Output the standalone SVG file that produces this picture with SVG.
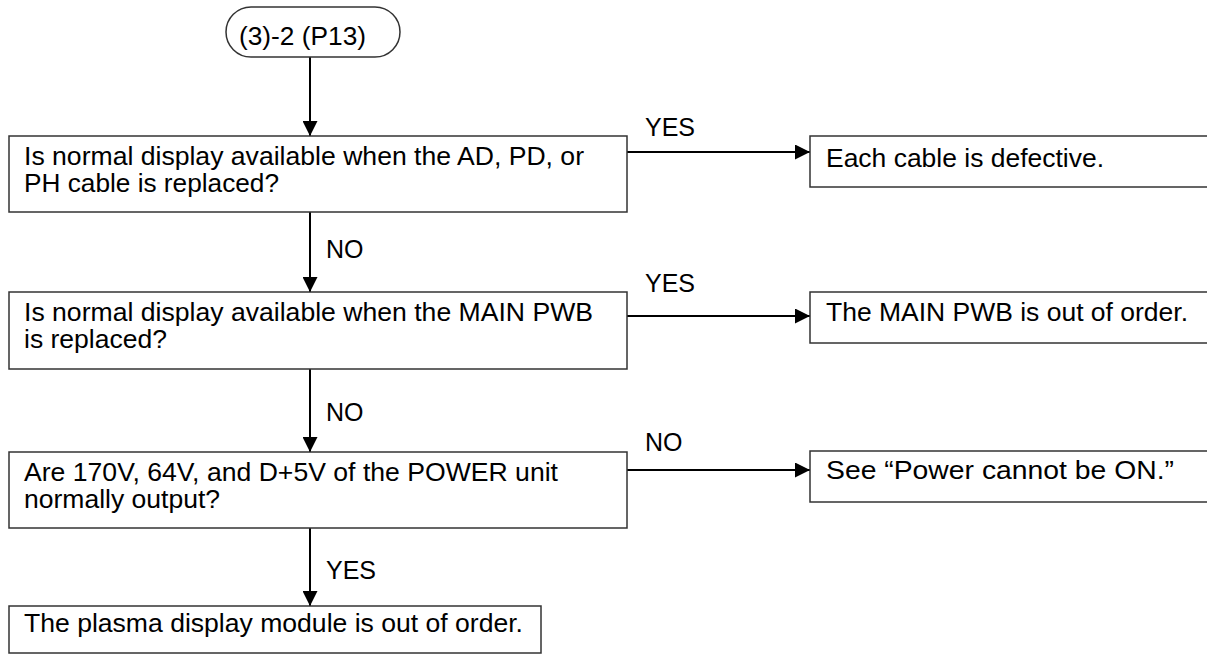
<svg xmlns="http://www.w3.org/2000/svg" width="1207" height="654" viewBox="0 0 1207 654">
  <style>
    .box { fill: #ffffff; stroke: #333333; stroke-width: 1.5; }
    .t { font-family: "Liberation Sans", Arial, sans-serif; font-size: 25px; fill: #000000; }
    .wire { fill: none; stroke: #000000; stroke-width: 2; }
  </style>
  <defs>
    <marker id="arrow" viewBox="0 0 15 15" refX="15" refY="7.5" markerWidth="15" markerHeight="15" markerUnits="userSpaceOnUse" orient="auto">
      <path d="M0,0 L15,7.5 L0,15 Z" fill="#000000"/>
    </marker>
  </defs>
  <rect width="1207" height="654" fill="#ffffff"/>

  <!-- Connectors -->
  <g id="connectors">
    <line class="wire" x1="310" y1="57" x2="310" y2="136" marker-end="url(#arrow)"/>
    <line class="wire" x1="310" y1="212" x2="310" y2="292" marker-end="url(#arrow)"/>
    <line class="wire" x1="310" y1="369" x2="310" y2="452" marker-end="url(#arrow)"/>
    <line class="wire" x1="310" y1="528" x2="310" y2="606" marker-end="url(#arrow)"/>
    <line class="wire" x1="627" y1="152" x2="810" y2="152" marker-end="url(#arrow)"/>
    <line class="wire" x1="627" y1="316" x2="810" y2="316" marker-end="url(#arrow)"/>
    <line class="wire" x1="627" y1="470" x2="810" y2="470" marker-end="url(#arrow)"/>
    <text class="t" x="326" y="258">NO</text>
    <text class="t" x="326" y="421">NO</text>
    <text class="t" x="326" y="579">YES</text>
    <text class="t" x="645" y="136">YES</text>
    <text class="t" x="645" y="292">YES</text>
    <text class="t" x="645" y="451">NO</text>
  </g>

  <!-- Start terminal -->
  <g id="start">
    <rect class="box" x="226" y="7" width="174" height="50" rx="25" ry="25"/>
    <text class="t" x="239" y="45" textLength="127" lengthAdjust="spacingAndGlyphs">(3)-2 (P13)</text>
  </g>

  <!-- Decision: cable replacement -->
  <g id="q-cable">
    <rect class="box" x="9" y="136" width="618" height="76"/>
    <text class="t" x="24" y="165" textLength="560" lengthAdjust="spacingAndGlyphs">Is normal display available when the AD, PD, or</text>
    <text class="t" x="24" y="192" textLength="255" lengthAdjust="spacingAndGlyphs">PH cable is replaced?</text>
  </g>
  <g id="r-cable">
    <rect class="box" x="810" y="136" width="420" height="51"/>
    <text class="t" x="826" y="167" textLength="278" lengthAdjust="spacingAndGlyphs">Each cable is defective.</text>
  </g>

  <!-- Decision: MAIN PWB replacement -->
  <g id="q-main">
    <rect class="box" x="9" y="292" width="618" height="77"/>
    <text class="t" x="24" y="321" textLength="569" lengthAdjust="spacingAndGlyphs">Is normal display available when the MAIN PWB</text>
    <text class="t" x="24" y="348" textLength="143" lengthAdjust="spacingAndGlyphs">is replaced?</text>
  </g>
  <g id="r-main">
    <rect class="box" x="810" y="292" width="420" height="51"/>
    <text class="t" x="826" y="321" textLength="362" lengthAdjust="spacingAndGlyphs">The MAIN PWB is out of order.</text>
  </g>

  <!-- Decision: POWER unit outputs -->
  <g id="q-power">
    <rect class="box" x="9" y="452" width="618" height="76"/>
    <text class="t" x="24" y="481" textLength="534" lengthAdjust="spacingAndGlyphs">Are 170V, 64V, and D+5V of the POWER unit</text>
    <text class="t" x="24" y="508" textLength="196" lengthAdjust="spacingAndGlyphs">normally output?</text>
  </g>
  <g id="r-power">
    <rect class="box" x="810" y="451" width="420" height="51"/>
    <text class="t" x="826" y="479" textLength="348" lengthAdjust="spacingAndGlyphs">See “Power cannot be ON.”</text>
  </g>

  <!-- Result: display module -->
  <g id="r-module">
    <rect class="box" x="9" y="606" width="532" height="47"/>
    <text class="t" x="24" y="632" textLength="499" lengthAdjust="spacingAndGlyphs">The plasma display module is out of order.</text>
  </g>
</svg>
